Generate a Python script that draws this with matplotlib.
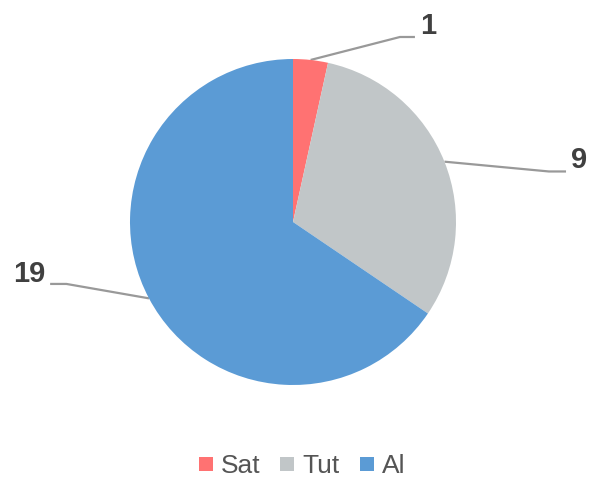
import numpy as np
import matplotlib.pyplot as plt

labels = ['Sat', 'Tut', 'Al']
values = [1, 9, 19]
colors = ['#FF7272', '#C1C6C8', '#5B9BD5']

# label layout (pie units, centre 0,0 radius 1): elbow x, elbow y, end x
label_pos = [(0.656, 1.135, 0.748), (1.57, 0.31, 1.675), (-1.39, -0.38, -1.49)]


def main():
    plt.rcParams['font.family'] = ['Liberation Sans', 'DejaVu Sans']
    fig = plt.figure(figsize=(5.98, 4.79), dpi=100)
    ax = fig.add_axes([0, 0, 1, 1])

    wedges, _ = ax.pie(values, colors=colors, startangle=90, counterclock=False,
                       radius=1, center=(0, 0), wedgeprops=dict(linewidth=0))

    for w, v, (ex, ey, tx) in zip(wedges, values, label_pos):
        mid = np.deg2rad((w.theta1 + w.theta2) / 2)
        sx, sy = np.cos(mid), np.sin(mid)
        ax.plot([sx, ex, tx], [sy, ey, ey], color='#999999', lw=1.6,
                solid_capstyle='butt', zorder=0)
        if tx > 0:
            ax.text(tx + 0.03, ey + 0.02, str(v), ha='left', va='baseline',
                    fontsize=21, fontweight='bold', color='#404040')
        else:
            ax.text(tx - 0.03, ey + 0.01, str(v), ha='right', va='baseline',
                    fontsize=21, fontweight='bold', color='#404040')

    ax.set_xlim(-293 / 163, (598 - 293) / 163)
    ax.set_ylim(-(479 - 222) / 163, 222 / 163)
    ax.set_aspect('auto')
    ax.axis('off')

    handles = [plt.Line2D([], [], marker='s', linestyle='', markersize=10.5,
                          markerfacecolor=c, markeredgewidth=0) for c in colors]
    ax.legend(handles, labels, loc='lower center', bbox_to_anchor=(0.505, 0.002),
              ncol=3, frameon=False, fontsize=19, handlelength=0.55,
              handletextpad=0.3, columnspacing=0.75, borderpad=0,
              borderaxespad=0, labelcolor='#555555')

    fig.savefig('out.png', dpi=100)


if __name__ == "__main__":
    main()
